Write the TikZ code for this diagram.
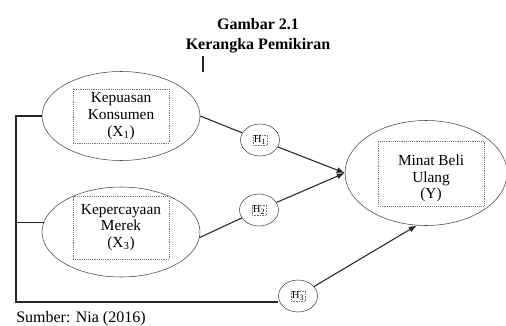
\documentclass[tikz,border=0pt]{standalone}
\usepackage{fontspec}
\setmainfont{Liberation Serif}
\usetikzlibrary{arrows.meta,shapes.geometric}

\begin{document}
\begin{tikzpicture}[
  x=0.75pt, y=-0.75pt,
  latent/.style  = {draw=black!75, ellipse, thin, inner sep=0pt},
  frame/.style   = {draw=black!55, densely dotted, thin, inner sep=0pt,
                    align=center, font=\fontsize{11.5}{12.5}\selectfont},
  hyp/.style     = {draw=black!75, ellipse, thin, inner sep=0pt,
                    minimum width=29.25pt, minimum height=24pt},
  hbox/.style    = {draw=black!55, densely dotted, very thin, inner sep=0.6pt,
                    font=\fontsize{8}{8}\selectfont},
  link/.style    = {thick, black!85},
  arrow/.style   = {thick, black!85, -{Latex[length=6pt,width=4.5pt]}},
  caption/.style = {anchor=base, inner sep=0pt, font=\bfseries\fontsize{12}{13}\selectfont},
]
  \useasboundingbox (0,0) rectangle (506,325);

  \node[caption] (title) at (258,29) {Gambar 2.1};
  \node[caption] (subtitle) at (258,49) {Kerangka Pemikiran};
  \coordinate (tick top) at (203,56);
  \coordinate (tick bot) at (203,72);
  \draw[link] (tick top) -- (tick bot);

  % variables
  \node[latent, minimum width=118.5pt, minimum height=66.75pt] (x1) at (121,116) {};
  \node[frame, minimum width=72pt, minimum height=40.5pt] (x1box) at (121,116)
    {Kepuasan\\Konsumen\\(X\textsubscript{1})};
  \node[latent, minimum width=118.5pt, minimum height=67.5pt] (x3) at (121,232) {};
  \node[frame, minimum width=72pt, minimum height=47.25pt] (x3box) at (121,227.5)
    {Kepercayaan\\Merek\\(X\textsubscript{3})};
  \node[latent, minimum width=121.5pt, minimum height=78.75pt] (y) at (426,173) {};
  \node[frame, minimum width=79.5pt, minimum height=48.75pt] (ybox) at (431,173.5) {};
  \node[frame, draw=none] (ytext) at (431,178.5) {Minat Beli\\Ulang\\(Y)};

  % hypotheses
  \node[hyp] (h1) at (260,140) {};
  \node[hbox] (h1box) at (h1) {H\textsubscript{1}};
  \node[hyp] (h2) at (259,210) {};
  \node[hbox] (h2box) at (h2) {H\textsubscript{2}};
  \node[hyp] (h3) at (298,296) {};
  \node[hbox] (h3box) at (h3) {H\textsubscript{3}};

  \coordinate (lt) at (16,116);
  \coordinate (lb) at (16,302);
  \draw[link] (x1.west) -- (lt) -- (lb) -- (lb -| h3.west);
  \draw[link] (x3.173) -- (x3.173 -| lt);

  \draw[link] (x1.east) -- (h1);
  \draw[link] (x3.-4) -- (h2);
  \draw[arrow] (h1) -- (y.west);
  \draw[arrow] (h2) -- (y.west);
  \draw[arrow] (h3) -- (y.260);

  \node[anchor=base west, inner sep=0pt, font=\fontsize{12}{13}\selectfont] (source)
    at (16,322) {Sumber: Nia (2016)};
\end{tikzpicture}
\end{document}
